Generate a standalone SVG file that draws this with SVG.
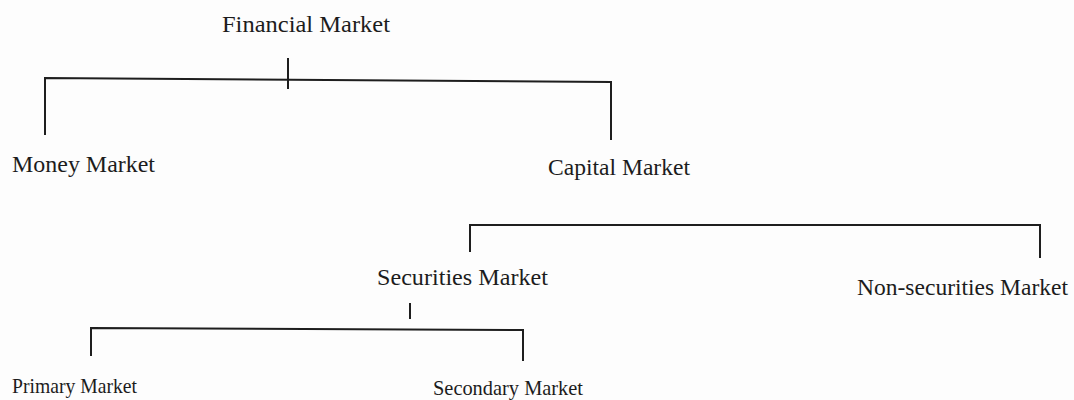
<svg xmlns="http://www.w3.org/2000/svg" width="1074" height="400" viewBox="0 0 1074 400">
  <style>
    .lbl { font-family: "Liberation Serif", "Times New Roman", serif; font-size: 23px; fill: #1c1c1c; }
    .sm { font-size: 21px; }
    .ln { stroke: #1e1e1e; stroke-width: 2; fill: none; stroke-linecap: square; }
  </style>
  <rect width="1074" height="400" fill="#fdfdfd"/>

  <g id="connectors">
    <!-- Financial Market split -->
    <path class="ln" d="M288 59 V88"/>
    <path class="ln" d="M45 134 V78 L611 82 V139"/>
    <!-- Capital Market split -->
    <path class="ln" d="M470 251 V225 H1040 V257"/>
    <!-- Securities Market split -->
    <path class="ln" d="M410 304 V318"/>
    <path class="ln" d="M91 355 V328 L523 330 V360"/>
  </g>

  <g id="financial-market"><text class="lbl" x="222" y="32" textLength="168" lengthAdjust="spacingAndGlyphs">Financial Market</text></g>
  <g id="money-market"><text class="lbl" x="12" y="172" textLength="143" lengthAdjust="spacingAndGlyphs">Money Market</text></g>
  <g id="capital-market"><text class="lbl" x="548" y="175" textLength="142" lengthAdjust="spacingAndGlyphs">Capital Market</text></g>
  <g id="securities-market"><text class="lbl" x="377" y="285" textLength="171" lengthAdjust="spacingAndGlyphs">Securities Market</text></g>
  <g id="non-securities-market"><text class="lbl" x="857" y="295" textLength="211" lengthAdjust="spacingAndGlyphs">Non-securities Market</text></g>
  <g id="primary-market"><text class="lbl sm" x="12" y="393" textLength="125" lengthAdjust="spacingAndGlyphs">Primary Market</text></g>
  <g id="secondary-market"><text class="lbl sm" x="433" y="395" textLength="150" lengthAdjust="spacingAndGlyphs">Secondary Market</text></g>
</svg>
